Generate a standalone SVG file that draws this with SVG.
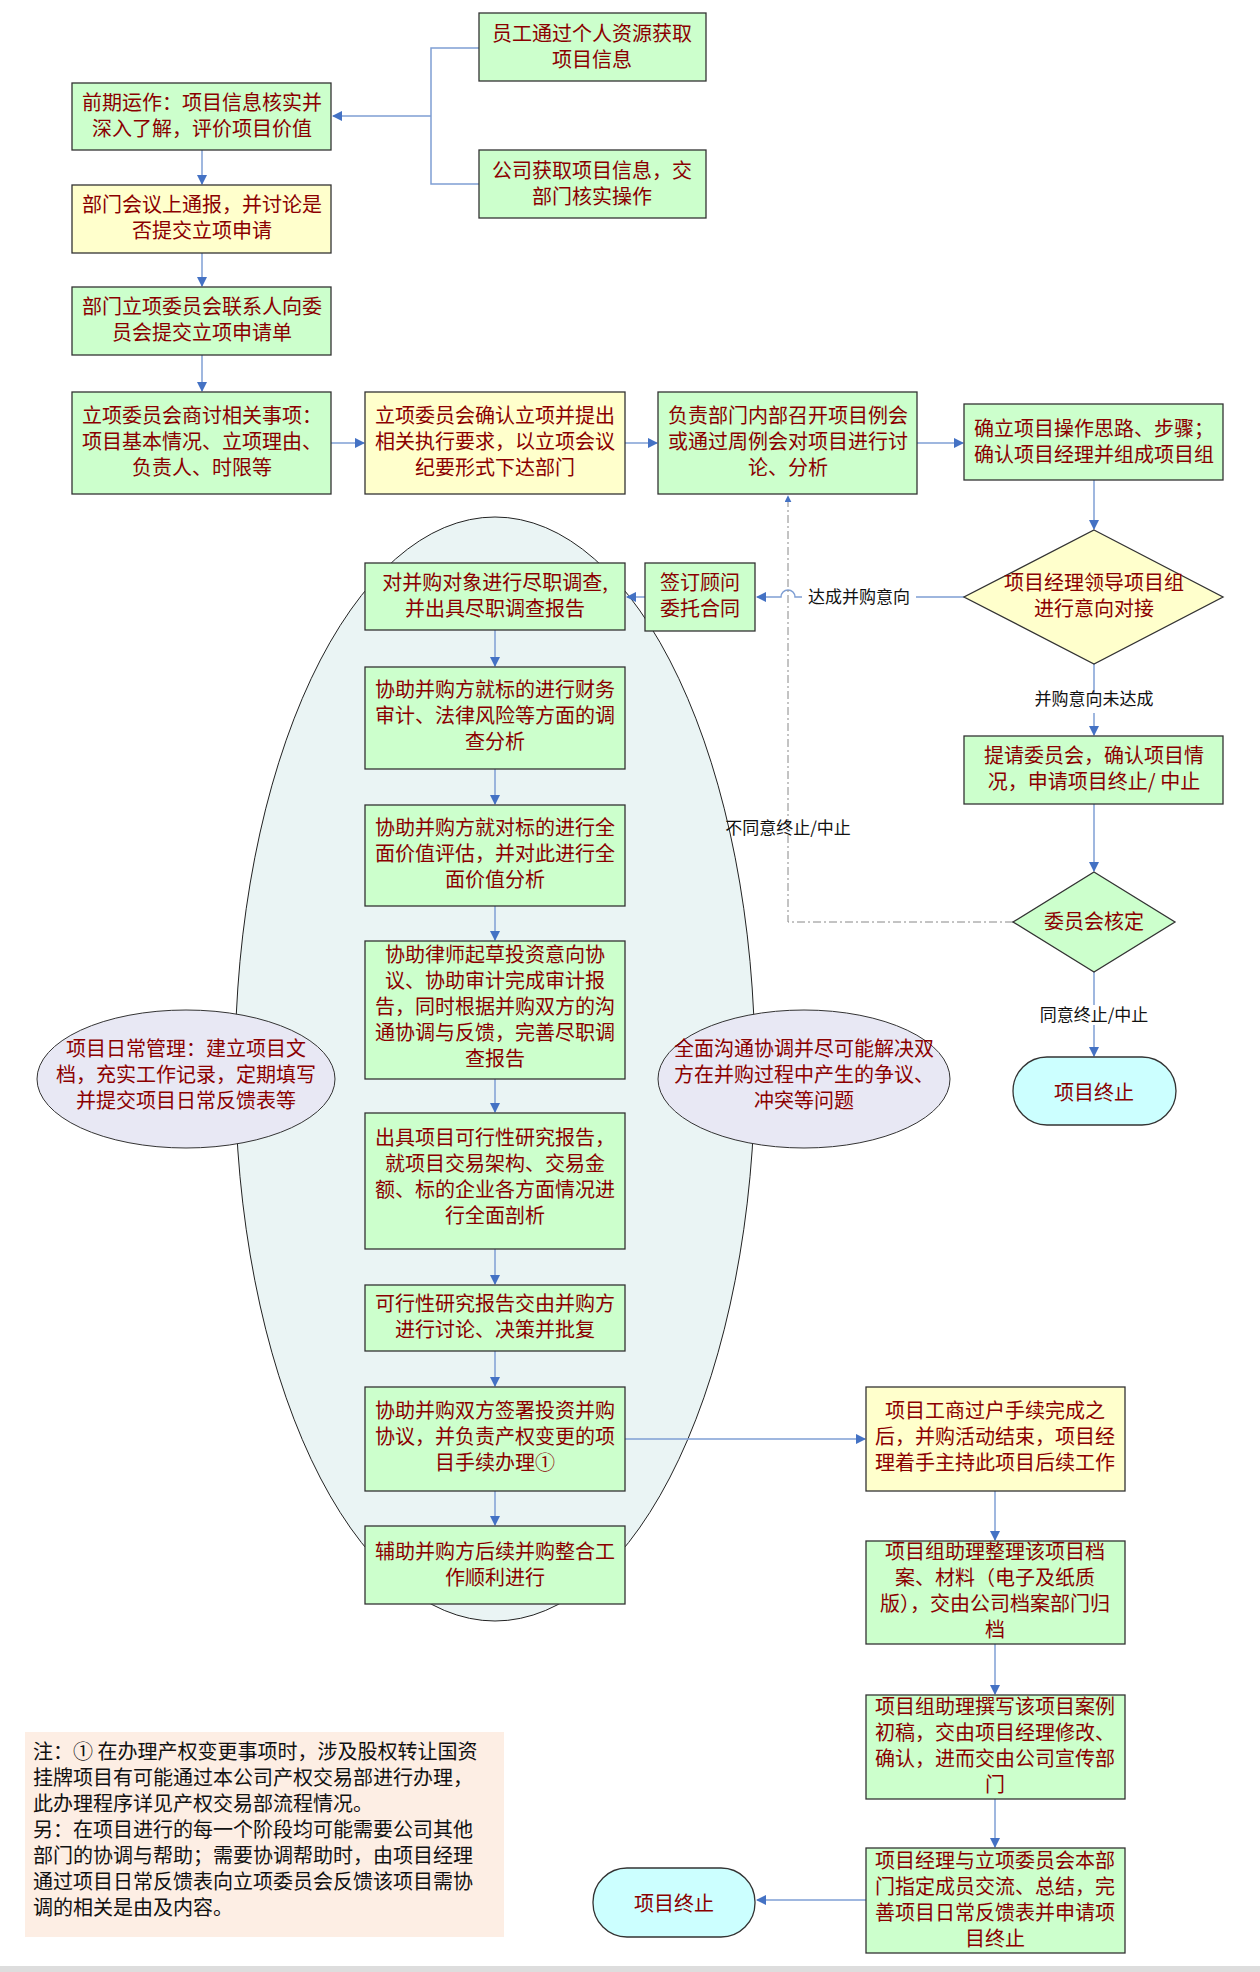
<svg xmlns="http://www.w3.org/2000/svg" width="1260" height="1972" viewBox="0 0 1260 1972">
<style>
.g{fill:#ccffcc;stroke:#333;stroke-width:1.3}
.y{fill:#ffffcc;stroke:#333;stroke-width:1.3}
text{font-family:"Noto Sans CJK SC","Noto Sans",sans-serif;font-size:20px;fill:#8b0000;text-anchor:middle}
.lb{fill:#111;font-size:17px}
.c{fill:none;stroke:#7f9fd4;stroke-width:1.5}
</style>
<defs><marker id="a" viewBox="0 0 10 10" refX="9" refY="5" markerWidth="7" markerHeight="7" orient="auto"><path d="M0,0L10,5L0,10z" fill="#4472c4"/></marker></defs>
<rect width="1260" height="1972" fill="#fff"/>
<g id="bigEllipse"><ellipse cx="495" cy="1069" rx="260" ry="552" fill="#eaf4f4" stroke="#222" stroke-width="1"/></g>
<g id="connectors">
<path class="c" d="M479,48H431V184H479M431,116H333" marker-end="url(#a)"/>
<path class="c" d="M202,150V184" marker-end="url(#a)"/>
<path class="c" d="M202,253V286" marker-end="url(#a)"/>
<path class="c" d="M202,355V391" marker-end="url(#a)"/>
<path class="c" d="M331,443H364" marker-end="url(#a)"/>
<path class="c" d="M625,443H657" marker-end="url(#a)"/>
<path class="c" d="M917,443H963" marker-end="url(#a)"/>
<path class="c" d="M1094,480V529" marker-end="url(#a)"/>
<path class="c" d="M964,597H795a7,7 0 0 0 -14,0H757" marker-end="url(#a)"/>
<path class="c" d="M645,597H627" marker-end="url(#a)"/>
<path d="M1013,922H788V496" fill="none" stroke="#888" stroke-width="1" stroke-dasharray="8,3,2,3" marker-end="url(#a)"/>
<path class="c" d="M1094,664V735" marker-end="url(#a)"/>
<path class="c" d="M1094,804V871" marker-end="url(#a)"/>
<path class="c" d="M1094,972V1056" marker-end="url(#a)"/>
<path class="c" d="M495,630V666" marker-end="url(#a)"/>
<path class="c" d="M495,769V804" marker-end="url(#a)"/>
<path class="c" d="M495,906V940" marker-end="url(#a)"/>
<path class="c" d="M495,1079V1112" marker-end="url(#a)"/>
<path class="c" d="M495,1249V1284" marker-end="url(#a)"/>
<path class="c" d="M495,1351V1386" marker-end="url(#a)"/>
<path class="c" d="M495,1491V1525" marker-end="url(#a)"/>
<path class="c" d="M625,1439H865" marker-end="url(#a)"/>
<path class="c" d="M995,1491V1540" marker-end="url(#a)"/>
<path class="c" d="M995,1644V1694" marker-end="url(#a)"/>
<path class="c" d="M995,1799V1847" marker-end="url(#a)"/>
<path class="c" d="M866,1900H757" marker-end="url(#a)"/>
<rect x="1012" y="693" width="164" height="20" fill="#fff"/>
<text class="lb" x="1094" y="705">并购意向未达成</text>
<rect x="1020" y="1005" width="148" height="20" fill="#fff"/>
<text class="lb" x="1094" y="1021">同意终止/中止</text>
<rect x="802" y="587" width="114" height="20" fill="#fff"/>
<text class="lb" x="859" y="603">达成并购意向</text>
<text class="lb" x="788" y="834">不同意终止/中止</text>
</g>
<g id="n1"><rect class="g" x="479" y="13" width="227" height="68"/><text x="592" y="41">员工通过个人资源获取</text><text x="592" y="67">项目信息</text></g>
<g id="n2"><rect class="g" x="479" y="150" width="227" height="68"/><text x="592" y="178">公司获取项目信息，交</text><text x="592" y="204">部门核实操作</text></g>
<g id="n3"><rect class="g" x="72" y="83" width="259" height="67"/><text x="202" y="110">前期运作：项目信息核实并</text><text x="202" y="136">深入了解，评价项目价值</text></g>
<g id="n4"><rect class="y" x="72" y="185" width="259" height="68"/><text x="202" y="212">部门会议上通报，并讨论是</text><text x="202" y="238">否提交立项申请</text></g>
<g id="n5"><rect class="g" x="72" y="287" width="259" height="68"/><text x="202" y="314">部门立项委员会联系人向委</text><text x="202" y="340">员会提交立项申请单</text></g>
<g id="n6"><rect class="g" x="72" y="392" width="259" height="102"/><text x="202" y="423">立项委员会商讨相关事项：</text><text x="202" y="449">项目基本情况、立项理由、</text><text x="202" y="475">负责人、时限等</text></g>
<g id="n7"><rect class="y" x="365" y="392" width="260" height="102"/><text x="495" y="423">立项委员会确认立项并提出</text><text x="495" y="449">相关执行要求，以立项会议</text><text x="495" y="475">纪要形式下达部门</text></g>
<g id="n8"><rect class="g" x="658" y="392" width="259" height="102"/><text x="788" y="423">负责部门内部召开项目例会</text><text x="788" y="449">或通过周例会对项目进行讨</text><text x="788" y="475">论、分析</text></g>
<g id="n9"><rect class="g" x="964" y="404" width="259" height="76"/><text x="1094" y="436">确立项目操作思路、步骤；</text><text x="1094" y="462">确认项目经理并组成项目组</text></g>
<g id="d1"><path class="y" d="M1094,530L1223,597L1094,664L964,597z"/><text x="1094" y="590">项目经理领导项目组</text><text x="1094" y="616">进行意向对接</text></g>
<g id="n10"><rect class="g" x="645" y="563" width="110" height="68"/><text x="700" y="590">签订顾问</text><text x="700" y="616">委托合同</text></g>
<g id="n11"><rect class="g" x="365" y="563" width="260" height="67"/><text x="495" y="590">对并购对象进行尽职调查,</text><text x="495" y="616">并出具尽职调查报告</text></g>
<g id="n12"><rect class="g" x="365" y="667" width="260" height="102"/><text x="495" y="697">协助并购方就标的进行财务</text><text x="495" y="723">审计、法律风险等方面的调</text><text x="495" y="749">查分析</text></g>
<g id="n13"><rect class="g" x="365" y="805" width="260" height="101"/><text x="495" y="835">协助并购方就对标的进行全</text><text x="495" y="861">面价值评估，并对此进行全</text><text x="495" y="887">面价值分析</text></g>
<g id="n14"><rect class="g" x="365" y="941" width="260" height="138"/><text x="495" y="962">协助律师起草投资意向协</text><text x="495" y="988">议、协助审计完成审计报</text><text x="495" y="1014">告，同时根据并购双方的沟</text><text x="495" y="1040">通协调与反馈，完善尽职调</text><text x="495" y="1066">查报告</text></g>
<g id="n15"><rect class="g" x="365" y="1113" width="260" height="136"/><text x="495" y="1145">出具项目可行性研究报告，</text><text x="495" y="1171">就项目交易架构、交易金</text><text x="495" y="1197">额、标的企业各方面情况进</text><text x="495" y="1223">行全面剖析</text></g>
<g id="n16"><rect class="g" x="365" y="1285" width="260" height="66"/><text x="495" y="1311">可行性研究报告交由并购方</text><text x="495" y="1337">进行讨论、决策并批复</text></g>
<g id="n17"><rect class="g" x="365" y="1387" width="260" height="104"/><text x="495" y="1418">协助并购双方签署投资并购</text><text x="495" y="1444">协议，并负责产权变更的项</text><text x="495" y="1470">目手续办理①</text></g>
<g id="n18"><rect class="g" x="365" y="1526" width="260" height="78"/><text x="495" y="1559">辅助并购方后续并购整合工</text><text x="495" y="1585">作顺利进行</text></g>
<g id="e1"><ellipse cx="186" cy="1079" rx="149" ry="69" fill="#e8e8f4" stroke="#333" stroke-width="1"/><text x="186" y="1056" font-size="19">项目日常管理：建立项目文</text><text x="186" y="1082" font-size="19">档，充实工作记录，定期填写</text><text x="186" y="1108" font-size="19">并提交项目日常反馈表等</text></g>
<g id="e2"><ellipse cx="804" cy="1079" rx="146" ry="69" fill="#e8e8f4" stroke="#333" stroke-width="1"/><text x="804" y="1056" font-size="19">全面沟通协调并尽可能解决双</text><text x="804" y="1082" font-size="19">方在并购过程中产生的争议、</text><text x="804" y="1108" font-size="19">冲突等问题</text></g>
<g id="n19"><rect class="g" x="964" y="736" width="259" height="68"/><text x="1094" y="763">提请委员会，确认项目情</text><text x="1094" y="789">况，申请项目终止/ 中止</text></g>
<g id="d2"><path class="g" d="M1094,872L1175,922L1094,972L1013,922z"/><text x="1094" y="929">委员会核定</text></g>
<g id="t1"><rect x="1013" y="1057" width="163" height="68" rx="34" fill="#ccffff" stroke="#333" stroke-width="1.3"/><text x="1094" y="1100" font-size="27">项目终止</text></g>
<g id="n20"><rect class="y" x="866" y="1387" width="259" height="104"/><text x="995" y="1418">项目工商过户手续完成之</text><text x="995" y="1444">后，并购活动结束，项目经</text><text x="995" y="1470">理着手主持此项目后续工作</text></g>
<g id="n21"><rect class="g" x="866" y="1541" width="259" height="103"/><text x="995" y="1559">项目组助理整理该项目档</text><text x="995" y="1585">案、材料（电子及纸质</text><text x="995" y="1611">版），交由公司档案部门归</text><text x="995" y="1637">档</text></g>
<g id="n22"><rect class="g" x="866" y="1695" width="259" height="104"/><text x="995" y="1714">项目组助理撰写该项目案例</text><text x="995" y="1740">初稿，交由项目经理修改、</text><text x="995" y="1766">确认，进而交由公司宣传部</text><text x="995" y="1792">门</text></g>
<g id="n23"><rect class="g" x="866" y="1848" width="259" height="105"/><text x="995" y="1868">项目经理与立项委员会本部</text><text x="995" y="1894">门指定成员交流、总结，完</text><text x="995" y="1920">善项目日常反馈表并申请项</text><text x="995" y="1946">目终止</text></g>
<g id="t2"><rect x="593" y="1868" width="162" height="69" rx="34" fill="#ccffff" stroke="#333" stroke-width="1.3"/><text x="674" y="1911" font-size="27">项目终止</text></g>
<g id="note"><rect x="25" y="1732" width="479" height="205" fill="#fdeee4"/>
<g font-size="19" style="text-anchor:start;fill:#111">
<text x="33" y="1759" style="text-anchor:start;fill:#111" font-size="19">注：① 在办理产权变更事项时，涉及股权转让国资</text>
<text x="33" y="1785" style="text-anchor:start;fill:#111" font-size="19">挂牌项目有可能通过本公司产权交易部进行办理，</text>
<text x="33" y="1811" style="text-anchor:start;fill:#111" font-size="19">此办理程序详见产权交易部流程情况。</text>
<text x="33" y="1837" style="text-anchor:start;fill:#111" font-size="19">另：在项目进行的每一个阶段均可能需要公司其他</text>
<text x="33" y="1863" style="text-anchor:start;fill:#111" font-size="19">部门的协调与帮助；需要协调帮助时，由项目经理</text>
<text x="33" y="1889" style="text-anchor:start;fill:#111" font-size="19">通过项目日常反馈表向立项委员会反馈该项目需协</text>
<text x="33" y="1915" style="text-anchor:start;fill:#111" font-size="19">调的相关是由及内容。</text>
</g></g>
<rect x="0" y="1966" width="1260" height="6" fill="#ddd"/>
</svg>
